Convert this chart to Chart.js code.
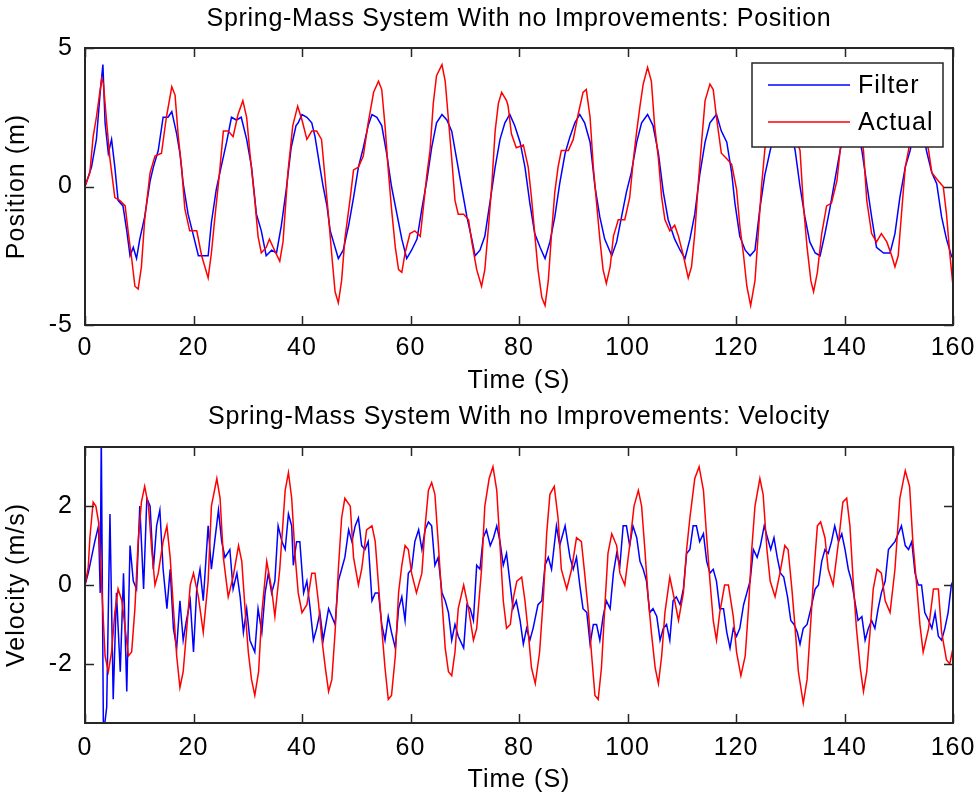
<!DOCTYPE html>
<html>
<head>
<meta charset="utf-8">
<script src="https://cdn.jsdelivr.net/npm/chart.js@4.4.1/dist/chart.umd.min.js"></script>
<style>
  html, body { margin: 0; padding: 0; background: #fff; }
  #wrap { position: relative; width: 979px; height: 796px; }
  canvas { position: absolute; left: 0; }
</style>
</head>
<body>
<div id="wrap">
  <canvas id="posChart" width="979" height="398" style="top:0px"></canvas>
  <canvas id="velChart" width="979" height="398" style="top:398px"></canvas>
</div>
<script>
// tick labels
const timeTicks = [0, 20, 40, 60, 80, 100, 120, 140, 160];
const posTicks = [-5, 0, 5];
const velTicks = [-2, 0, 2];

// position, Filter (blue)
const posFilterTime = [0, 1.2, 2.1, 2.8, 3.3, 3.7, 4.3, 4.9, 5.5, 6.1, 7.0, 7.7, 8.3, 8.9, 9.5, 10.1, 11.0, 12.0, 12.6, 13.5,
  14.4, 15.3, 16.0, 16.9, 17.5, 18.1, 19.0, 19.9, 20.9, 22.1, 22.7, 23.3, 24.2, 25.2, 26.1, 27.0, 27.9, 28.8, 29.8, 30.7,
  31.6, 32.5, 33.4, 34.4, 35.3, 36.2, 37.1, 38.0, 38.9, 39.3, 40.0, 40.9, 41.8, 42.4, 43.3, 43.9, 44.6, 45.2, 45.8, 46.7,
  47.6, 48.6, 49.5, 50.4, 51.3, 52.2, 52.9, 53.8, 54.7, 55.6, 56.5, 57.5, 58.4, 59.3, 60.2, 61.2, 62.1, 63.0, 63.9, 64.8,
  65.8, 66.7, 67.6, 68.5, 69.4, 70.4, 71.3, 71.9, 72.8, 73.7, 74.7, 75.6, 76.5, 77.4, 78.3, 79.2, 80.2, 81.1, 82.0, 82.9,
  83.9, 84.8, 85.7, 86.6, 87.5, 88.5, 89.4, 90.3, 91.2, 92.1, 93.1, 94.0, 94.9, 95.8, 97.1, 98.0, 98.9, 99.8, 100.7, 101.7,
  102.6, 103.7, 104.7, 105.7, 106.6, 107.5, 108.7, 109.7, 110.6, 111.5, 112.4, 113.3, 114.3, 115.2, 116.4, 117.3, 118.3, 119.2, 119.8, 120.7,
  121.7, 122.6, 123.5, 124.4, 125.3, 126.3, 127.3, 128.3, 129.3, 130.2, 130.9, 131.8, 132.7, 133.6, 134.6, 135.5, 136.4, 137.3, 138.2, 139.2,
  140.2, 141.2, 142.2, 143.2, 144.1, 145.0, 145.9, 147.2, 148.4, 149.3, 150.2, 151.2, 152.1, 153.0, 153.8, 154.5, 155.1, 156.1, 157.0, 157.9,
  158.8, 159.7, 160];
const posFilter = [0, 0.7, 1.7, 3.4, 4.4, 2.3, 1.2, 1.7, 0.7, -0.5, -0.7, -1.6, -2.5, -2.2, -2.6, -1.9, -1.1, 0.2, 0.7, 1.3,
  2.5, 2.5, 2.7, 1.9, 1.2, 0.1, -1.0, -1.7, -2.5, -2.5, -2.5, -1.3, -0.1, 0.8, 1.6, 2.5, 2.4, 2.5, 1.7, 0.7,
  -1.0, -1.6, -2.5, -2.3, -2.4, -1.4, -0.1, 1.4, 2.2, 2.3, 2.6, 2.5, 2.3, 1.8, 0.7, 0.0, -0.7, -1.6, -2.0, -2.6,
  -2.3, -1.4, -0.4, 0.7, 1.4, 2.2, 2.6, 2.5, 2.2, 1.2, 0.0, -1.0, -1.9, -2.6, -2.3, -1.9, -0.8, 0.2, 1.4, 2.3,
  2.6, 2.4, 2.0, 1.0, 0.0, -1.1, -1.9, -2.5, -2.3, -1.8, -0.5, 0.7, 1.7, 2.3, 2.6, 2.2, 1.6, 0.7, -0.6, -1.7,
  -2.2, -2.6, -2.0, -1.1, 0.1, 1.2, 1.8, 2.3, 2.6, 2.3, 1.6, 0.0, -1.1, -1.9, -2.5, -2.0, -1.1, -0.2, 0.5, 1.6,
  2.3, 2.6, 2.2, 1.2, -0.2, -1.2, -1.9, -2.3, -2.6, -1.9, -1.0, 0.4, 1.6, 2.3, 2.6, 2.0, 1.6, 0.5, -0.6, -1.8,
  -2.3, -2.5, -2.3, -0.8, 0.4, 1.3, 2.1, 2.6, 2.5, 2.0, 1.3, 0.0, -1.1, -2.0, -2.4, -2.5, -1.7, -0.8, 0.2, 1.3,
  2.2, 2.6, 2.3, 1.3, 0.1, -1.1, -2.2, -2.4, -2.4, -1.7, -0.4, 0.7, 1.3, 2.2, 2.6, 2.1, 1.3, 0.5, 0.1, -1.1,
  -1.9, -2.5, -2.6];

// position, Actual (red)
const posActualTime = [0, 0.9, 1.5, 2.1, 2.8, 3.1, 3.4, 4.0, 4.6, 5.5, 6.4, 7.4, 8.0, 8.6, 9.2, 9.8, 10.4, 11.0, 12.0, 12.9,
  14.1, 15.0, 16.0, 16.6, 17.2, 17.8, 18.4, 19.3, 20.6, 21.5, 22.7, 23.3, 23.9, 24.8, 25.5, 26.4, 27.3, 28.2, 29.1, 29.8,
  30.4, 31.3, 31.9, 32.5, 33.4, 34.0, 34.7, 35.9, 36.5, 37.4, 38.3, 39.2, 40.0, 40.9, 41.8, 42.7, 43.6, 44.3, 44.9, 45.5,
  46.1, 46.7, 47.3, 47.9, 48.9, 49.5, 50.4, 51.3, 52.2, 53.2, 54.1, 54.7, 55.3, 55.9, 56.5, 57.2, 57.8, 58.4, 59.0, 59.9,
  60.8, 61.8, 62.4, 63.0, 63.6, 64.2, 64.8, 65.8, 66.4, 67.0, 67.6, 68.2, 68.8, 69.8, 70.7, 71.3, 72.2, 73.1, 73.7, 74.4,
  75.0, 75.6, 76.2, 76.8, 77.7, 78.0, 78.6, 79.5, 80.8, 81.7, 82.3, 82.9, 83.5, 84.2, 84.8, 85.4, 86.0, 86.6, 87.2, 87.8,
  89.1, 90.0, 90.9, 91.8, 92.4, 93.1, 93.7, 94.3, 94.9, 95.5, 96.1, 96.8, 97.4, 98.3, 99.5, 100.4, 101.1, 101.7, 102.3, 102.9,
  103.7, 104.4, 105.0, 105.7, 106.3, 106.9, 107.8, 108.7, 109.4, 110.3, 111.2, 111.8, 112.4, 113.0, 113.7, 114.3, 115.2, 115.8, 116.4, 117.3,
  118.3, 119.2, 120.1, 120.7, 121.4, 122.0, 122.7, 123.5, 124.1, 124.7, 125.3, 126.0, 126.8, 127.5, 128.2, 129.0, 130.0, 131.0, 131.8, 132.4,
  133.1, 133.8, 134.3, 135.0, 135.8, 136.7, 137.6, 138.6, 139.2, 140.0, 140.8, 141.6, 142.5, 143.0, 143.5, 144.1, 145.0, 145.9, 146.8, 147.8,
  148.7, 149.3, 149.9, 150.5, 151.2, 151.8, 152.5, 153.3, 154.0, 154.8, 155.5, 156.1, 157.3, 158.2, 158.8, 159.4, 160];
const posActual = [0, 0.5, 1.8, 2.5, 3.5, 3.9, 3.7, 2.3, 1.0, -0.4, -0.5, -0.7, -1.7, -2.6, -3.6, -3.7, -2.9, -1.2, 0.5, 1.1,
  1.2, 2.5, 3.6, 3.3, 1.8, 0.7, -0.8, -1.6, -1.6, -2.5, -3.3, -2.4, -1.2, 0.5, 2.0, 2.0, 1.8, 2.6, 3.1, 2.5,
  1.2, -0.5, -1.8, -2.4, -2.2, -1.9, -2.2, -2.7, -2.0, 0.5, 2.2, 2.9, 2.4, 1.7, 2.0, 2.0, 1.7, 0.2, -1.1, -2.5,
  -3.8, -4.2, -3.4, -1.9, -0.4, 0.6, 0.7, 1.1, 2.3, 3.4, 3.8, 3.5, 2.2, 0.6, -0.8, -2.2, -3.0, -3.1, -2.4, -1.7,
  -1.6, -1.8, -0.7, 0.4, 1.3, 3.0, 4.0, 4.4, 3.8, 2.4, 1.0, -0.5, -1.0, -1.0, -1.2, -2.0, -3.0, -3.6, -3.0, -1.4,
  0.1, 2.0, 3.0, 3.4, 3.1, 2.9, 1.9, 1.4, 1.5, 0.7, -0.4, -1.7, -3.0, -4.0, -4.3, -3.4, -1.7, -0.2, 0.7, 1.3,
  1.3, 1.7, 2.6, 3.4, 3.5, 2.5, 0.7, -0.6, -1.9, -3.0, -3.5, -2.9, -1.8, -1.2, -1.2, -0.4, 1.0, 2.0, 2.9, 3.7,
  4.3, 3.8, 2.2, 1.0, -0.4, -1.2, -1.6, -1.4, -1.8, -2.5, -3.3, -2.9, -1.7, 0.0, 1.7, 3.1, 3.7, 3.5, 2.5, 1.2,
  1.0, 0.8, -0.1, -1.4, -2.5, -3.6, -4.3, -3.4, -1.7, 0.0, 1.3, 2.5, 3.5, 3.8, 3.3, 2.2, 1.9, 1.8, 1.3, -0.6,
  -2.2, -3.4, -3.8, -3.1, -1.7, -0.7, -0.6, 0.2, 1.3, 2.6, 3.6, 3.4, 2.3, 1.9, 1.3, -0.5, -1.7, -2.0, -1.7, -2.0,
  -2.5, -2.9, -2.5, -1.0, 0.7, 1.3, 2.4, 3.2, 3.1, 2.0, 1.3, 0.5, 0.2, 0.0, -1.0, -2.4, -3.6];

// velocity, Filter (blue)
const velFilterTime = [0, 0.6, 1.2, 1.8, 2.5, 2.8, 3.0, 3.4, 4.0, 4.6, 5.2, 5.8, 6.5, 7.1, 7.7, 8.3, 8.9, 9.5, 10.1, 10.8,
  11.4, 12.0, 12.6, 13.2, 13.8, 14.4, 15.1, 15.7, 16.3, 16.9, 17.5, 18.1, 18.7, 19.4, 20.0, 20.6, 21.2, 21.8, 22.7, 23.3,
  23.9, 24.6, 25.2, 25.8, 26.7, 27.3, 28.0, 28.6, 29.2, 29.8, 30.4, 31.3, 31.9, 32.6, 33.2, 33.8, 34.4, 35.0, 35.6, 36.3,
  36.9, 37.5, 38.1, 38.4, 39.0, 39.6, 40.3, 40.9, 41.5, 42.1, 42.7, 43.3, 43.9, 44.9, 45.5, 46.1, 46.7, 47.3, 47.9, 48.6,
  49.2, 49.8, 50.4, 51.0, 51.6, 52.2, 52.9, 53.5, 54.1, 54.7, 55.3, 55.9, 56.5, 57.2, 57.8, 58.4, 59.0, 59.6, 60.2, 60.8,
  61.5, 62.1, 62.7, 63.3, 63.9, 64.5, 65.1, 65.8, 66.4, 67.0, 67.6, 68.2, 68.8, 69.8, 70.4, 71.0, 71.6, 72.2, 72.8, 73.4,
  74.0, 74.7, 75.3, 75.9, 76.5, 77.1, 77.7, 78.3, 78.9, 79.5, 80.2, 80.8, 81.4, 82.0, 82.6, 83.5, 84.2, 84.8, 85.4, 86.0,
  86.9, 87.5, 88.5, 89.4, 90.0, 90.6, 91.2, 91.8, 92.5, 93.1, 93.7, 94.3, 94.9, 95.5, 96.1, 96.8, 97.4, 98.0, 98.6, 99.2,
  99.8, 100.4, 101.0, 101.7, 102.3, 102.9, 103.5, 104.1, 104.7, 105.4, 106.0, 106.6, 107.2, 107.8, 108.4, 109.0, 109.7, 110.3, 110.9, 111.5,
  112.1, 112.7, 113.3, 114.0, 114.6, 115.2, 115.8, 116.4, 117.0, 117.7, 118.3, 118.9, 119.5, 120.1, 120.7, 121.4, 122.0, 122.6, 123.2, 123.9,
  124.5, 125.2, 125.8, 126.4, 127.0, 127.6, 128.2, 128.8, 129.5, 130.1, 130.7, 131.3, 131.8, 132.4, 133.1, 133.8, 134.6, 135.2, 135.8, 136.4,
  137.0, 137.6, 138.2, 138.9, 139.5, 140.1, 140.7, 141.3, 141.9, 142.5, 143.2, 143.8, 144.4, 145.0, 145.6, 146.2, 146.8, 147.5, 148.1, 148.7,
  149.3, 149.9, 150.5, 151.2, 151.8, 152.4, 153.0, 153.6, 154.2, 154.8, 155.5, 156.1, 156.7, 157.3, 157.9, 158.5, 159.1, 159.7, 160];
const velFilter = [0, 0.3, 0.7, 1.1, 1.5, -0.2, 3.8, -3.8, -3.1, 1.8, -2.9, -0.2, -2.2, 0.3, -2.7, 1.0, 0.1, -0.1, 2.0, -0.1,
  2.2, 2.0, 0.4, 1.5, 1.9, 0.4, -0.6, 0.4, -1.1, -1.6, -0.4, -1.4, -0.9, -0.4, -1.7, -0.1, 0.4, -0.4, 1.5, 0.4,
  1.1, 1.9, 1.1, 0.7, 0.9, -0.1, 0.3, -0.3, -1.2, -0.6, -1.4, -1.7, -0.6, -1.2, -0.2, 0.3, -0.2, 0.1, 1.5, 1.1,
  0.9, 1.8, 1.5, 0.5, 1.1, 1.1, -0.2, 0.1, -0.6, -1.4, -1.1, -0.7, -1.4, -0.6, -0.8, -1.0, 0.1, 0.4, 0.7, 1.4,
  1.1, 1.5, 1.7, 1.0, 0.9, 1.1, -0.4, -0.2, -0.2, -1.0, -1.4, -0.8, -1.2, -1.6, -0.6, -0.3, -0.9, 0.3, 0.4, 1.1,
  1.4, 0.9, 1.4, 1.6, 1.5, 0.5, 0.7, -0.2, -0.4, -0.7, -1.4, -1.0, -1.3, -1.6, -0.5, -0.6, -0.9, 0.5, 0.4, 1.2,
  1.4, 1.0, 1.2, 1.5, 1.1, 0.5, 0.8, 0.1, -0.6, -0.4, -0.9, -1.5, -1.1, -1.4, -1.1, -0.5, -0.4, 0.5, 0.7, 0.4,
  1.5, 1.0, 1.5, 0.7, 0.4, 0.7, 0.0, -0.6, -0.7, -1.5, -1.0, -1.0, -1.4, -0.8, -0.4, -0.6, 0.3, 0.8, 0.5, 1.5,
  1.5, 1.0, 1.5, 1.2, 0.6, 0.4, 0.1, -0.7, -0.6, -0.8, -1.4, -1.1, -1.0, -1.4, -0.4, -0.3, -0.5, -0.1, 0.8, 0.9,
  1.5, 1.5, 1.1, 1.3, 0.6, 0.3, 0.4, 0.1, -0.6, -0.6, -1.2, -1.6, -1.1, -1.3, -1.1, -0.5, -0.2, 0.1, 0.9, 0.7,
  1.0, 1.5, 1.2, 0.9, 1.2, 0.7, 0.3, 0.2, -0.3, -0.9, -1.0, -1.2, -1.5, -1.1, -1.0, -0.6, -0.1, 0.0, 0.6, 0.9,
  0.8, 1.1, 1.5, 1.1, 1.3, 0.9, 0.4, 0.1, -0.4, -0.9, -0.8, -1.4, -1.1, -0.9, -1.1, -0.6, -0.2, 0.1, 0.9, 1.0,
  1.1, 1.3, 1.5, 1.0, 0.9, 1.1, 0.3, 0.0, 0.0, -0.7, -0.9, -1.1, -0.7, -1.3, -1.4, -1.1, -0.7, 0.0, 0.1];

// velocity, Actual (red)
const velActualTime = [0, 0.6, 0.9, 1.5, 2.0, 2.5, 3.1, 3.7, 4.3, 4.9, 5.5, 6.1, 6.8, 7.4, 8.0, 8.6, 9.2, 9.8, 10.4, 11.0,
  11.7, 12.3, 12.9, 13.5, 14.4, 15.1, 15.7, 16.3, 16.9, 17.5, 18.1, 18.7, 19.4, 20.0, 20.9, 21.8, 22.7, 23.3, 24.3, 24.9,
  25.5, 26.4, 27.3, 28.3, 28.9, 29.5, 30.1, 30.7, 31.3, 32.0, 32.6, 33.5, 34.4, 35.0, 35.9, 36.9, 37.5, 38.1, 38.7, 39.3,
  40.0, 40.9, 41.8, 42.4, 43.0, 43.6, 44.3, 44.9, 45.5, 46.1, 46.7, 47.3, 47.9, 48.9, 49.5, 50.4, 51.0, 51.9, 52.9, 53.5,
  54.1, 54.7, 55.3, 55.9, 56.5, 57.2, 57.8, 58.4, 59.0, 59.6, 60.2, 61.1, 62.1, 62.7, 63.3, 63.9, 64.5, 65.1, 65.8, 66.4,
  67.0, 67.6, 68.2, 68.8, 69.8, 70.7, 71.6, 72.2, 73.1, 73.7, 74.5, 75.2, 75.9, 76.5, 77.1, 77.7, 78.4, 79.0, 79.6, 80.5,
  81.1, 81.7, 82.3, 83.0, 83.8, 84.5, 85.1, 85.7, 86.5, 87.2, 87.8, 88.8, 89.7, 90.6, 91.5, 92.1, 92.8, 93.4, 94.0, 94.6,
  95.2, 95.8, 96.4, 97.1, 98.0, 98.6, 99.5, 100.4, 101.2, 102.0, 102.6, 103.2, 103.8, 104.4, 105.1, 105.7, 106.3, 106.9, 107.8, 108.7,
  109.4, 110.3, 110.9, 111.5, 112.4, 113.2, 114.0, 114.6, 115.2, 115.8, 116.4, 117.0, 117.9, 118.6, 119.5, 120.1, 120.9, 121.7, 122.3, 122.9,
  123.5, 124.4, 125.0, 125.7, 126.3, 127.2, 128.1, 129.0, 129.6, 130.3, 130.9, 131.5, 132.4, 133.1, 133.8, 134.4, 135.0, 135.6, 136.4, 137.0,
  137.9, 138.9, 139.7, 140.4, 141.0, 141.6, 142.2, 142.9, 143.5, 144.1, 144.7, 145.3, 146.0, 146.8, 147.5, 148.4, 149.3, 150.2, 151.2, 152.0,
  152.6, 153.3, 153.9, 154.5, 155.5, 156.4, 157.3, 157.9, 158.8, 159.4, 160];
const velActual = [0, 0.45, 1.2, 2.1, 2.0, 1.6, -0.1, -1.8, -2.2, -1.7, -0.7, -0.1, -0.4, -1.1, -1.8, -1.7, -0.6, 1.1, 2.1, 2.5,
  2.0, 0.9, 0.0, 0.3, 1.1, 1.5, 0.7, -0.6, -1.8, -2.6, -2.2, -1.2, 0.0, 0.3, -0.3, -1.2, 0.1, 2.0, 2.7, 2.2,
  0.7, -0.3, 0.2, 1.0, 0.6, -0.6, -1.7, -2.4, -2.8, -2.2, -0.7, 0.6, -0.1, -0.8, 0.4, 2.4, 2.85, 2.2, 0.8, -0.2,
  -0.7, -0.5, 0.3, 0.3, -0.4, -1.3, -2.1, -2.7, -2.4, -1.2, 0.4, 1.7, 2.2, 2.0, 0.7, 0.0, 0.4, 1.4, 1.5, 1.1,
  0.0, -1.1, -2.1, -2.9, -2.8, -1.8, -0.2, 0.5, 1.0, 0.9, 0.3, -0.2, 0.3, 1.5, 2.4, 2.6, 2.3, 1.1, -0.4, -1.6,
  -2.2, -2.3, -1.7, -0.6, 0.0, -0.6, -1.4, -1.1, 0.4, 2.0, 2.7, 3.0, 2.4, 1.0, -0.4, -1.1, -1.0, -0.3, 0.1, 0.2,
  -0.4, -1.2, -2.1, -2.5, -1.7, -0.3, 1.3, 2.3, 2.5, 1.7, 0.4, -0.1, 0.4, 1.2, 1.1, 0.3, -0.7, -1.8, -2.8, -2.9,
  -2.1, -0.6, 0.8, 1.3, 1.0, 0.3, 0.0, 1.0, 2.0, 2.4, 2.0, 0.9, -0.3, -1.2, -2.1, -2.5, -1.8, -0.7, 0.2, -0.4,
  -0.9, -0.2, 0.9, 1.7, 2.7, 3.0, 2.4, 1.2, 0.1, -0.9, -1.4, -0.7, 0.0, 0.0, -0.8, -1.7, -2.3, -1.8, -0.6, 0.9,
  2.0, 2.7, 2.3, 0.9, 0.1, -0.3, 0.3, 1.0, 0.9, -0.1, -1.1, -2.2, -3.0, -2.4, -0.9, 0.4, 1.5, 1.6, 1.2, 0.4,
  0.0, 1.1, 2.1, 2.2, 1.5, 0.1, -1.1, -2.1, -2.7, -2.2, -1.2, -0.1, 0.4, 0.3, -0.4, -0.7, 0.4, 2.2, 2.9, 2.5,
  1.1, 0.0, -1.0, -1.7, -1.1, -0.1, -0.1, -1.2, -1.9, -2.0, -1.6];

const FONT = { family: '"Liberation Sans", Arial, sans-serif', size: 25, weight: 'normal', lineHeight: 1.25 };
const FONT_CSS = FONT.size + 'px ' + FONT.family;
const TEXT_COLOR = '#000';

function toPoints(times, values) {
  return times.map((t, i) => ({ x: t, y: values[i] }));
}

// MATLAB text is a bit wider than Liberation Sans, so space the glyphs out
const spacingPlugin = {
  id: 'spacing',
  beforeInit(chart) { chart.ctx.letterSpacing = '1px'; },
  beforeUpdate(chart) { chart.ctx.letterSpacing = '1px'; },
  beforeDraw(chart) { chart.ctx.letterSpacing = '1px'; }
};

// axes title centred over the plot box
const axesTitlePlugin = {
  id: 'axesTitle',
  afterDraw(chart, args, opts) {
    const { ctx, chartArea: a } = chart;
    ctx.save();
    ctx.font = FONT_CSS;
    ctx.letterSpacing = '0.7px';
    ctx.fillStyle = TEXT_COLOR;
    ctx.textAlign = 'center';
    ctx.textBaseline = 'middle';
    ctx.fillText(opts.text, (a.left + a.right) / 2, opts.y);
    ctx.restore();
  }
};

// box around the plot with inward ticks on all four sides
const boxTicksPlugin = {
  id: 'boxTicks',
  afterDatasetsDraw(chart) {
    const { ctx, chartArea: a, scales } = chart;
    const len = 9;
    ctx.save();
    ctx.strokeStyle = '#262626';
    ctx.lineWidth = 1.5;
    ctx.beginPath();
    scales.x.ticks.forEach(t => {
      const px = Math.round(scales.x.getPixelForValue(t.value)) + 0.5;
      ctx.moveTo(px, a.bottom); ctx.lineTo(px, a.bottom - len);
      ctx.moveTo(px, a.top); ctx.lineTo(px, a.top + len);
    });
    scales.y.ticks.forEach(t => {
      const py = Math.round(scales.y.getPixelForValue(t.value)) + 0.5;
      ctx.moveTo(a.left, py); ctx.lineTo(a.left + len, py);
      ctx.moveTo(a.right, py); ctx.lineTo(a.right - len, py);
    });
    ctx.stroke();
    ctx.lineWidth = 2;
    ctx.strokeRect(a.left, a.top, a.right - a.left, a.bottom - a.top);
    ctx.restore();
  }
};

// legend box in the upper right corner of the plot
const boxLegendPlugin = {
  id: 'boxLegend',
  afterDraw(chart, args, opts) {
    if (!opts.show) return;
    const { ctx, chartArea: a } = chart;
    const w = 191, h = 84;
    const x0 = a.right - 10 - w, y0 = a.top + 15;
    ctx.save();
    ctx.fillStyle = '#fff';
    ctx.fillRect(x0, y0, w, h);
    ctx.strokeStyle = '#262626';
    ctx.lineWidth = 1.5;
    ctx.strokeRect(x0, y0, w, h);
    ctx.font = FONT_CSS;
    ctx.letterSpacing = '1px';
    ctx.textBaseline = 'middle';
    ctx.textAlign = 'left';
    const rows = [22, 59];
    chart.data.datasets.forEach((ds, i) => {
      const y = y0 + rows[i];
      ctx.strokeStyle = ds.borderColor;
      ctx.lineWidth = 1.5;
      ctx.beginPath();
      ctx.moveTo(x0 + 16, y); ctx.lineTo(x0 + 98, y);
      ctx.stroke();
      ctx.fillStyle = TEXT_COLOR;
      ctx.fillText(ds.label, x0 + 106, y + 1);
    });
    ctx.restore();
  }
};

function makeChart(id, cfg) {
  const ctx = document.getElementById(id).getContext('2d');
  return new Chart(ctx, {
    type: 'line',
    data: {
      datasets: [
        { label: 'Filter', data: cfg.filter, borderColor: '#0000ff', borderWidth: 1.5, order: 1 },
        { label: 'Actual', data: cfg.actual, borderColor: '#ff0000', borderWidth: 1.5, order: 0 }
      ]
    },
    options: {
      responsive: false,
      animation: false,
      events: [],
      layout: { padding: { left: 0, right: 26, top: cfg.top, bottom: 0 } },
      elements: {
        line: { tension: 0, fill: false },
        point: { radius: 0 }
      },
      scales: {
        x: {
          type: 'linear',
          min: 0,
          max: 160,
          afterBuildTicks: sc => { sc.ticks = timeTicks.map(v => ({ value: v })); },
          afterFit: sc => { sc.height = 73; sc.paddingLeft = 0; sc.paddingRight = 0; },
          grid: { display: false, drawTicks: false },
          border: { display: false },
          ticks: { font: FONT, color: TEXT_COLOR, padding: cfg.xTickPad, maxRotation: 0, autoSkip: false },
          title: { display: true, text: 'Time (S)', font: FONT, color: TEXT_COLOR, padding: { top: 0, bottom: cfg.xTitlePad } }
        },
        y: {
          type: 'linear',
          min: cfg.yMin,
          max: cfg.yMax,
          afterBuildTicks: sc => { sc.ticks = cfg.yTicks.map(v => ({ value: v })); },
          afterFit: sc => { sc.width = 85; sc.paddingTop = 0; sc.paddingBottom = 0; },
          grid: { display: false, drawTicks: false },
          border: { display: false },
          ticks: { font: FONT, color: TEXT_COLOR, padding: 12 },
          title: { display: true, text: cfg.yTitle, font: FONT, color: TEXT_COLOR, padding: { top: 1, bottom: 0 } }
        }
      },
      plugins: {
        legend: { display: false },
        tooltip: { enabled: false },
        title: { display: false },
        axesTitle: { text: cfg.title, y: 19 },
        boxLegend: { show: cfg.legend }
      }
    },
    plugins: [spacingPlugin, axesTitlePlugin, boxTicksPlugin, boxLegendPlugin]
  });
}

makeChart('posChart', {
  filter: toPoints(posFilterTime, posFilter),
  actual: toPoints(posActualTime, posActual),
  yMin: -5, yMax: 5, yTicks: posTicks,
  yTitle: 'Position (m)',
  title: 'Spring-Mass System With no Improvements: Position',
  top: 48, xTickPad: 7, xTitlePad: 1, legend: true
});

makeChart('velChart', {
  filter: toPoints(velFilterTime, velFilter),
  actual: toPoints(velActualTime, velActual),
  yMin: -3.5, yMax: 3.5, yTicks: velTicks,
  yTitle: 'Velocity (m/s)',
  title: 'Spring-Mass System With no Improvements: Velocity',
  top: 49, xTickPad: 9, xTitlePad: 0, legend: false
});
</script>
</body>
</html>
